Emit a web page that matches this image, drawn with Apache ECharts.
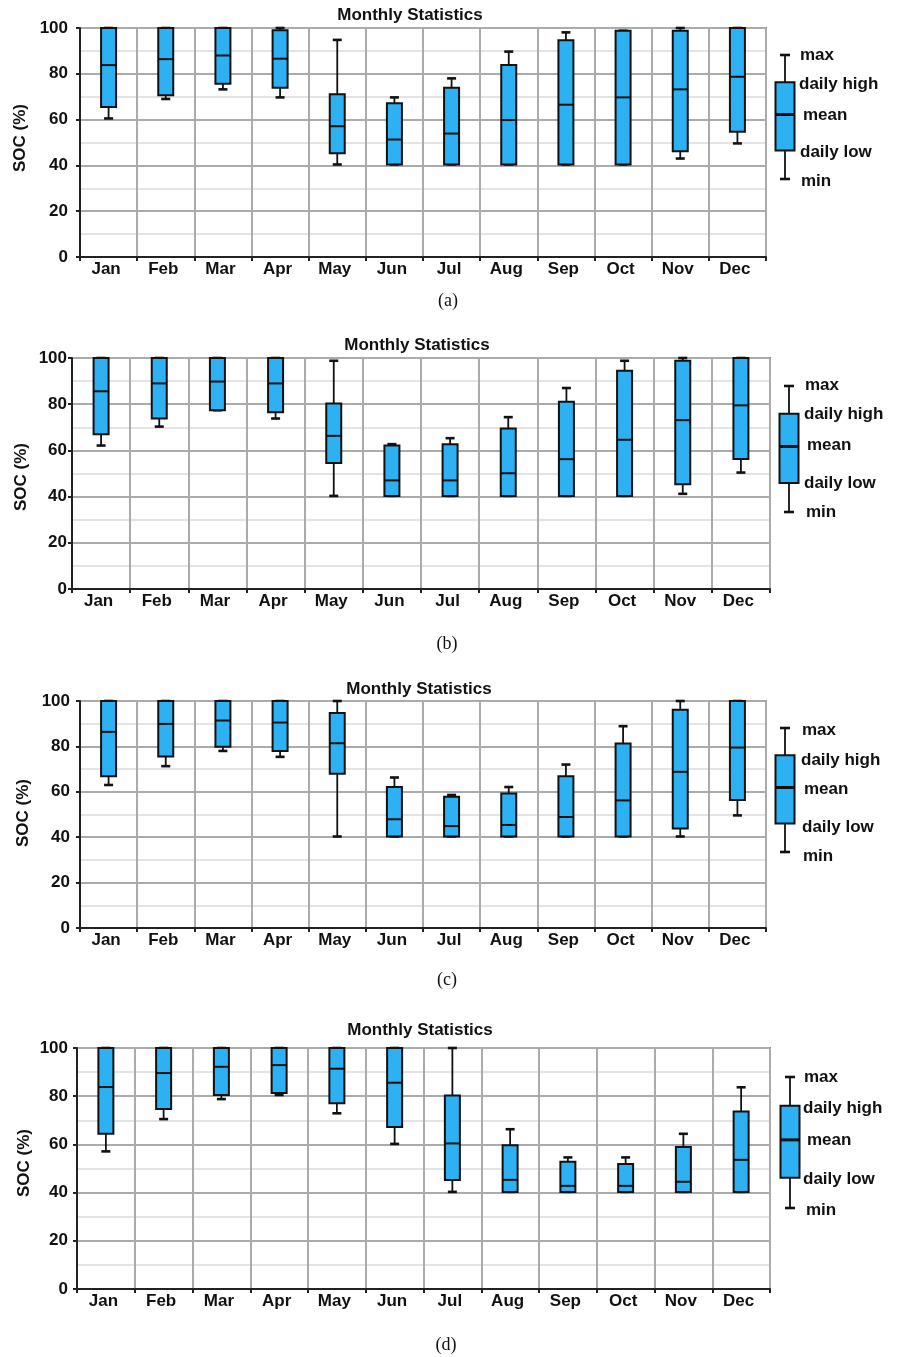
<!DOCTYPE html>
<html>
<head>
<meta charset="utf-8">
<title>Monthly Statistics</title>
<script src="https://cdn.jsdelivr.net/npm/echarts@6/dist/echarts.min.js"></script>
<style>
  html, body { margin: 0; padding: 0; background: #fff; }
  #chart { width: 898px; height: 1357px; }
</style>
</head>
<body>
<div id="chart"></div>
<script>
// Month categories shared by all four panels
const months = ['Jan', 'Feb', 'Mar', 'Apr', 'May', 'Jun', 'Jul', 'Aug', 'Sep', 'Oct', 'Nov', 'Dec'];

// SOC axis
const socMin = 0;
const socMax = 100;
const socStep = 20;

// Panel (a)
const maxA  = [100, 100, 100, 100, 94.8, 69.7, 78.0, 89.7, 98.1, 98.8, 100, 100];
const highA = [100, 100, 100, 99.0, 71.1, 67.1, 73.9, 83.8, 94.6, 98.8, 98.8, 100];
const meanA = [83.8, 86.4, 88.0, 86.6, 57.1, 51.3, 53.9, 59.8, 66.5, 69.7, 73.2, 78.7];
const lowA  = [65.5, 70.6, 75.7, 73.9, 45.3, 40.4, 40.4, 40.4, 40.4, 40.4, 46.2, 54.7];
const minA  = [60.5, 69.0, 73.2, 69.7, 40.4, 40.4, 40.4, 40.4, 40.4, 40.4, 43.0, 49.6];

// Panel (b)
const maxB  = [100, 100, 100, 100, 98.8, 62.7, 65.3, 74.4, 87.0, 98.8, 100, 100];
const highB = [100, 100, 100, 100, 80.3, 62.1, 62.7, 69.5, 81.1, 94.5, 98.8, 100];
const meanB = [85.6, 89.0, 89.8, 89.0, 66.3, 47.0, 47.0, 50.1, 56.2, 64.6, 73.1, 79.5];
const lowB  = [67.0, 73.8, 77.4, 76.5, 54.5, 40.3, 40.3, 40.3, 40.3, 40.3, 45.4, 56.3];
const minB  = [62.1, 70.3, 77.4, 73.8, 40.3, 40.3, 40.3, 40.3, 40.3, 40.3, 41.2, 50.4];

// Panel (c)
const maxC  = [100, 100, 100, 100, 100, 66.3, 58.6, 62.1, 72.0, 88.9, 100, 100];
const highC = [100, 100, 100, 100, 94.7, 62.1, 57.8, 59.3, 66.9, 81.3, 96.2, 100];
const meanC = [86.4, 89.9, 91.4, 90.5, 81.4, 47.9, 44.9, 45.4, 48.9, 56.2, 68.8, 79.5];
const lowC  = [66.9, 75.5, 79.8, 78.0, 67.9, 40.3, 40.3, 40.3, 40.3, 40.3, 43.8, 56.4];
const minC  = [63.0, 71.3, 78.0, 75.4, 40.3, 40.3, 40.3, 40.3, 40.3, 40.3, 40.3, 49.6];

// Panel (d)
const maxD  = [100, 100, 100, 100, 100, 100, 100, 66.3, 54.6, 54.6, 64.4, 83.7];
const highD = [100, 100, 100, 100, 100, 100, 80.3, 59.6, 52.8, 51.9, 58.9, 73.7];
const meanD = [83.8, 89.6, 92.2, 92.9, 91.4, 85.6, 60.4, 45.3, 42.8, 42.8, 44.5, 53.6];
const lowD  = [64.4, 74.7, 80.5, 81.3, 77.1, 67.2, 45.2, 40.3, 40.3, 40.3, 40.3, 40.3];
const minD  = [57.1, 70.5, 78.8, 80.5, 72.9, 60.2, 40.3, 40.3, 40.3, 40.3, 40.3, 40.3];

// Key glyph: min, daily low, mean, daily high, max (relative units)
const keyValues = [0, 23, 52, 78, 100];
const keyLabels = ['max', 'daily high', 'mean', 'daily low', 'min'];
const panelTags = ['(a)', '(b)', '(c)', '(d)'];
const chartTitle = 'Monthly Statistics';
const yName = 'SOC (%)';

const SANS = '"Liberation Sans", Arial, Helvetica, sans-serif';
const SERIF = '"Liberation Serif", "DejaVu Serif", serif';
const BOX_FILL = '#2db1f2';
const INK = '#111';

function rows(mn, lo, me, hi, mx) {
  return mn.map((v, i) => [i, v, lo[i], me[i], hi[i], mx[i]]);
}

// Box-and-whisker glyph drawn through the axis scales
function boxRenderer(boxPx, capPx, meanWidth) {
  return function (params, api) {
    const i = api.value(0);
    const at = (v) => api.coord([i, v]);
    const pMin = at(api.value(1));
    const pLow = at(api.value(2));
    const pMean = at(api.value(3));
    const pHigh = at(api.value(4));
    const pMax = at(api.value(5));
    const x = pMean[0];
    const stem = { stroke: INK, lineWidth: 1.8 };
    const cap = { stroke: INK, lineWidth: 2.6 };
    return {
      type: 'group',
      children: [
        { type: 'line', shape: { x1: x, y1: pMax[1], x2: x, y2: pHigh[1] }, style: stem },
        { type: 'line', shape: { x1: x, y1: pLow[1], x2: x, y2: pMin[1] }, style: stem },
        { type: 'line', shape: { x1: x - capPx / 2, y1: pMax[1], x2: x + capPx / 2, y2: pMax[1] }, style: cap },
        { type: 'line', shape: { x1: x - capPx / 2, y1: pMin[1], x2: x + capPx / 2, y2: pMin[1] }, style: cap },
        { type: 'rect', shape: { x: x - boxPx / 2, y: pHigh[1], width: boxPx, height: pLow[1] - pHigh[1] },
          style: { fill: BOX_FILL, stroke: INK, lineWidth: 2 } },
        { type: 'line', shape: { x1: x - boxPx / 2, y1: pMean[1], x2: x + boxPx / 2, y2: pMean[1] },
          style: { stroke: INK, lineWidth: meanWidth } }
      ]
    };
  };
}

// Layout of each panel: plot rectangle, key glyph rectangle, text anchors
const panels = [
  { data: rows(minA, lowA, meanA, highA, maxA),
    grid: { left: 80, top: 28, width: 686, height: 229 }, labelMargin: 12,
    key: { left: 775, top: 55, width: 20, height: 124 },
    keyText: [[800, 55], [799, 84], [803, 115], [800, 152], [801, 181]],
    title: [410, 15], yName: [20, 138], tag: [448, 301] },
  { data: rows(minB, lowB, meanB, highB, maxB),
    grid: { left: 72, top: 358, width: 698, height: 231 }, labelMargin: 5,
    key: { left: 779, top: 386, width: 20, height: 126 },
    keyText: [[805, 385], [804, 414], [807, 445], [804, 483], [806, 512]],
    title: [417, 345], yName: [21, 477], tag: [447, 644] },
  { data: rows(minC, lowC, meanC, highC, maxC),
    grid: { left: 80, top: 701, width: 686, height: 227 }, labelMargin: 10,
    key: { left: 775, top: 728, width: 20, height: 124 },
    keyText: [[802, 730], [801, 760], [804, 789], [802, 827], [803, 856]],
    title: [419, 689], yName: [23, 813], tag: [447, 980] },
  { data: rows(minD, lowD, meanD, highD, maxD),
    grid: { left: 77, top: 1048, width: 693, height: 241 }, labelMargin: 9,
    key: { left: 780, top: 1077, width: 20, height: 131 },
    keyText: [[804, 1077], [803, 1108], [807, 1140], [803, 1179], [806, 1210]],
    title: [420, 1030], yName: [24, 1163], tag: [446, 1345] }
];

const grids = [], xAxes = [], yAxes = [], series = [], graphics = [];

function text(x, y, str, font, extra) {
  return Object.assign({
    type: 'text', x: x, y: y, silent: true,
    style: { text: str, font: font, fill: INK, align: 'center', verticalAlign: 'middle',
             textAlign: 'center', textVerticalAlign: 'middle' }
  }, extra || {});
}

panels.forEach((p, k) => {
  // main plot
  const gi = grids.length;
  grids.push(Object.assign({ show: true, borderColor: '#333', borderWidth: 1.5, containLabel: false }, p.grid));
  xAxes.push({
    gridIndex: gi, type: 'category', data: months, boundaryGap: true,
    axisLine: { show: true, lineStyle: { color: '#222', width: 2 } },
    axisTick: { show: true, length: 4, lineStyle: { color: '#222', width: 2 } },
    axisLabel: { color: INK, fontFamily: SANS, fontWeight: 'bold', fontSize: 17, margin: 4, padding: [0, 5, 0, 0] },
    splitLine: { show: true, lineStyle: { color: '#ababab', width: 2 } }
  });
  yAxes.push({
    gridIndex: gi, type: 'value', min: socMin, max: socMax, interval: socStep,
    axisLine: { show: true, lineStyle: { color: '#222', width: 2 } },
    axisTick: { show: true, length: 4, lineStyle: { color: '#222', width: 2 } },
    axisLabel: { color: INK, fontFamily: SANS, fontWeight: 'bold', fontSize: 17, margin: p.labelMargin },
    splitLine: { show: true, lineStyle: { color: '#ababab', width: 2 } },
    minorTick: { show: false, splitNumber: 2 },
    minorSplitLine: { show: true, lineStyle: { color: '#e4e4e4', width: 2 } }
  });
  series.push({
    type: 'custom', xAxisIndex: gi, yAxisIndex: gi, clip: false, z: 5,
    renderItem: boxRenderer(15, 9, 2),
    encode: { x: 0, y: [1, 2, 3, 4, 5] },
    data: p.data
  });

  // key glyph
  const ki = grids.length;
  grids.push(Object.assign({ show: false, containLabel: false }, p.key));
  xAxes.push({ gridIndex: ki, type: 'category', data: ['key'], show: false });
  yAxes.push({ gridIndex: ki, type: 'value', min: 0, max: 100, show: false, splitLine: { show: false } });
  series.push({
    type: 'custom', xAxisIndex: ki, yAxisIndex: ki, clip: false,
    renderItem: boxRenderer(19, 10, 3),
    encode: { x: 0, y: [1, 2, 3, 4, 5] },
    data: [[0].concat(keyValues)]
  });

  // texts
  graphics.push(text(p.title[0], p.title[1], chartTitle, 'bold 17px ' + SANS));
  graphics.push(text(p.yName[0], p.yName[1], yName, 'bold 17px ' + SANS, { rotation: Math.PI / 2 }));
  graphics.push(text(p.tag[0], p.tag[1], panelTags[k], '18px ' + SERIF));
  keyLabels.forEach((lab, j) => {
    const t = text(p.keyText[j][0], p.keyText[j][1], lab, 'bold 17px ' + SANS);
    t.style.align = 'left';
    t.style.textAlign = 'left';
    graphics.push(t);
  });
});

const chart = echarts.init(document.getElementById('chart'), null, { renderer: 'canvas' });
chart.setOption({
  backgroundColor: '#fff',
  animation: false,
  grid: grids,
  xAxis: xAxes,
  yAxis: yAxes,
  series: series,
  graphic: { elements: graphics }
});
</script>
</body>
</html>
